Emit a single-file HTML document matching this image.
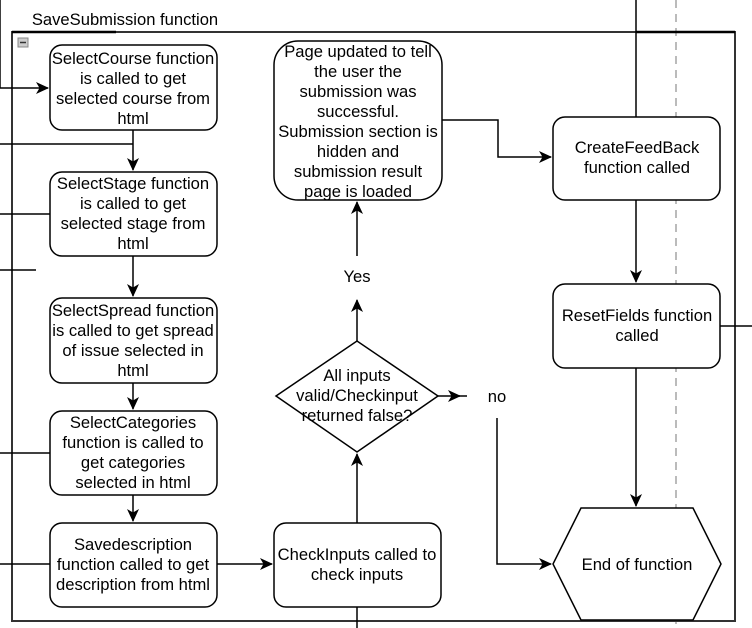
<!DOCTYPE html>
<html><head><meta charset="utf-8"><style>
html,body{margin:0;padding:0;background:#fff;width:752px;height:628px;overflow:hidden}
text{font-family:"Liberation Sans",sans-serif;font-size:16.6px;fill:#000}
</style></head><body>
<svg width="752" height="628" viewBox="0 0 752 628" xmlns="http://www.w3.org/2000/svg">
<defs><marker id="a" markerWidth="14" markerHeight="14" refX="12" refY="6" orient="auto" markerUnits="userSpaceOnUse"><path d="M0,0 L13,6 L0,12 L3.5,6 Z" fill="#000"/></marker></defs>
<g fill="none" stroke="#000" stroke-width="1.5">
<line x1="676" y1="0" x2="676" y2="628" stroke="#bbb" stroke-dasharray="8,6" stroke-width="2"/>
<rect x="12" y="32" width="723" height="589" stroke="#333" stroke-width="2"/>
<line x1="12" y1="32" x2="116" y2="32" stroke-width="2.5"/>
<line x1="636" y1="32" x2="735" y2="32" stroke-width="2.5"/>
<polyline points="0,0 0,88 48,88" marker-end="url(#a)"/>
<line x1="0" y1="144" x2="133" y2="144"/>
<line x1="0" y1="214" x2="50" y2="214"/>
<line x1="0" y1="270" x2="36" y2="270"/>
<line x1="0" y1="453" x2="50" y2="453"/>
<line x1="0" y1="564" x2="50" y2="564"/>
<line x1="133" y1="130" x2="133" y2="170" marker-end="url(#a)"/>
<line x1="133" y1="256" x2="133" y2="296" marker-end="url(#a)"/>
<line x1="133" y1="383" x2="133" y2="409" marker-end="url(#a)"/>
<line x1="133" y1="495" x2="133" y2="521" marker-end="url(#a)"/>
<line x1="217" y1="564" x2="272" y2="564" marker-end="url(#a)"/>
<line x1="357" y1="523" x2="357" y2="454" marker-end="url(#a)"/>
<line x1="357" y1="607" x2="357" y2="628"/>
<line x1="357" y1="341" x2="357" y2="300" marker-end="url(#a)"/>
<line x1="357" y1="256" x2="357" y2="202" marker-end="url(#a)"/>
<line x1="438" y1="396" x2="460" y2="396" marker-end="url(#a)"/>
<line x1="455" y1="396" x2="467" y2="396"/>
<polyline points="497,418 497,564 551,564" marker-end="url(#a)"/>
<polyline points="442,120 498,120 498,157 551,157" marker-end="url(#a)"/>
<line x1="636" y1="0" x2="636" y2="117"/>
<line x1="636" y1="200" x2="636" y2="282" marker-end="url(#a)"/>
<line x1="636" y1="368" x2="636" y2="506" marker-end="url(#a)"/>
<line x1="720" y1="326" x2="752" y2="326"/>
<rect x="50" y="45" width="167" height="85" rx="12" fill="#fff"/>
<rect x="50" y="172" width="167" height="84" rx="12" fill="#fff"/>
<rect x="50" y="298" width="167" height="85" rx="12" fill="#fff"/>
<rect x="50" y="411" width="167" height="84" rx="12" fill="#fff"/>
<rect x="50" y="523" width="167" height="84" rx="12" fill="#fff"/>
<rect x="274" y="523" width="167" height="84" rx="12" fill="#fff"/>
<rect x="274" y="41" width="168" height="159" rx="24" fill="#fff"/>
<rect x="553" y="117" width="167" height="83" rx="12" fill="#fff"/>
<rect x="553" y="284" width="167" height="84" rx="12" fill="#fff"/>
<polygon points="276,396 357,341 438,396 357,452" fill="#fff"/>
<polygon points="581,508 693,508 721,564 693,620 581,620 553,564" fill="#fff"/>
</g>
<rect x="18" y="38" width="10" height="9" fill="#ccc" stroke="#888"/>
<line x1="20" y1="42.5" x2="26" y2="42.5" stroke="#333" stroke-width="1.5"/>
<g text-anchor="middle">
<text x="125" y="25">SaveSubmission function</text>
<text x="133" y="64">SelectCourse function</text>
<text x="133" y="84">is called to get</text>
<text x="133" y="104">selected course from</text>
<text x="133" y="124">html</text>
<text x="133" y="189">SelectStage function</text>
<text x="133" y="209">is called to get</text>
<text x="133" y="229">selected stage from</text>
<text x="133" y="249">html</text>
<text x="133" y="316">SelectSpread function</text>
<text x="133" y="336">is called to get spread</text>
<text x="133" y="356">of issue selected in</text>
<text x="133" y="376">html</text>
<text x="133" y="428">SelectCategories</text>
<text x="133" y="448">function is called to</text>
<text x="133" y="468">get categories</text>
<text x="133" y="488">selected in html</text>
<text x="133" y="550">Savedescription</text>
<text x="133" y="570">function called to get</text>
<text x="133" y="590">description from html</text>
<text x="357" y="560">CheckInputs called to</text>
<text x="357" y="580">check inputs</text>
<text x="357" y="381">All inputs</text>
<text x="357" y="401">valid/Checkinput</text>
<text x="357" y="421">returned false?</text>
<text x="357" y="282">Yes</text>
<text x="497" y="402">no</text>
<text x="358" y="57">Page updated to tell</text>
<text x="358" y="77">the user the</text>
<text x="358" y="97">submission was</text>
<text x="358" y="117">successful.</text>
<text x="358" y="137">Submission section is</text>
<text x="358" y="157">hidden and</text>
<text x="358" y="177">submission result</text>
<text x="358" y="197">page is loaded</text>
<text x="637" y="153">CreateFeedBack</text>
<text x="637" y="173">function called</text>
<text x="637" y="321">ResetFields function</text>
<text x="637" y="341">called</text>
<text x="637" y="570">End of function</text>
</g>
</svg>
</body></html>
